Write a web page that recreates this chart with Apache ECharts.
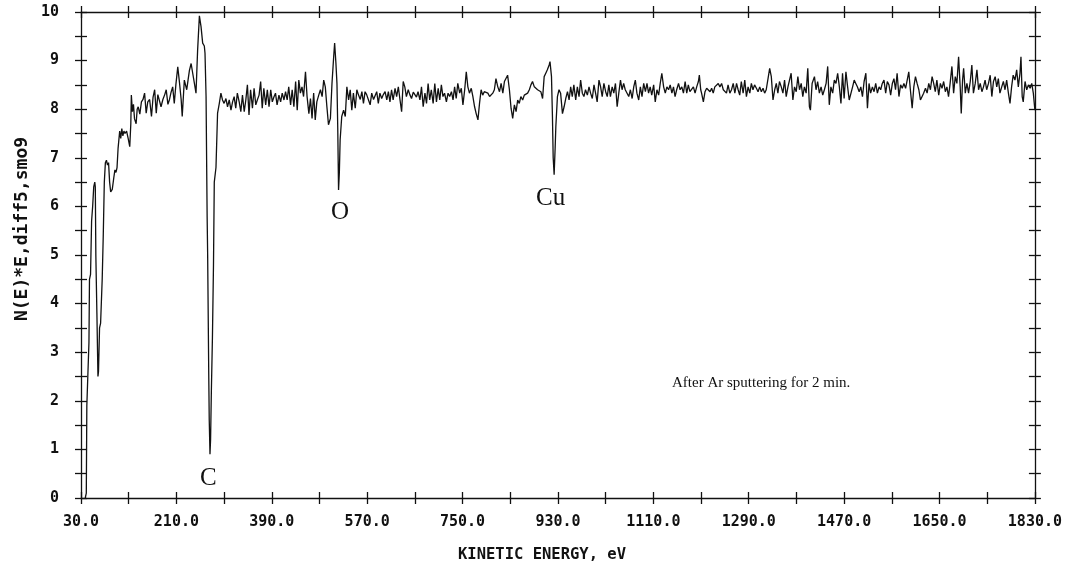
<!DOCTYPE html>
<html>
<head>
<meta charset="utf-8">
<script src="https://cdn.jsdelivr.net/npm/echarts@6/dist/echarts.min.js"></script>
<style>
html,body{margin:0;padding:0;background:#fff;}
#chart{width:1065px;height:566px;}
</style>
</head>
<body>
<div id="chart"></div>
<script>
// ---- data: [kinetic energy (eV), N(E)*E diff5 smo9] ----
const lowEnergy = [
[38,0.0],[40,0.1],[41,1.9],[44,1.9],[45,3.2],[46,4.5],[48,4.6],[50,5.7],[52,6.0],[54,6.4],[56,6.5],[57,6.4],
[58,5.0],[60,3.8],[62,2.5],[63,2.6],[65,3.5],[67,3.6],[70,4.5],[72,5.4],[74,6.5],[76,6.9],[78,6.95],[80,6.85],
[82,6.9],[84,6.5],[86,6.3],[89,6.35],[92,6.6],[94,6.75],[96,6.7],[98,6.8],[100,7.2],[103,7.55],[105,7.4],
[107,7.6],[109,7.45],[111,7.55],[113,7.5],[116,7.55],[119,7.4],[122,7.23],[124,7.7],[125,8.29],[127,7.95],
[129,8.1],[131,7.8],[134,7.7],[136,8.0]
];
const carbonRegion = [
[138,8.05],[141,7.9],[144,8.15],[147,8.2],[150,8.33],[153,7.92],[156,8.15],[159.5,8.2],[163,7.85],[166,8.25],
[169,8.4],[172,7.92],[175,8.3],[178,8.33],[181,8.05],[184.5,8.2],[188,8.3],[190.8,8.4],[194,8.1],[197,8.2],
[200,8.35],[203,8.46],[206,8.12],[209,8.5],[212.6,8.87],[216,8.53],[219,8.2],[221,7.85],[225,8.6],[229.5,8.4],
[232,8.6],[234.6,8.8],[237.8,8.94],[240.8,8.74],[244,8.53],[247,8.33],[250,9.2],[253.4,9.92],[256.5,9.7],
[259.6,9.36],[262.7,9.3],[264,9.15],[266,8.26],[267,7.0],[268,5.8],[269,5.0],[270,3.8],[271,2.6],[272,1.6],
[273.4,0.9],[274.5,1.2],[276,2.2],[278,3.3],[280,4.8],[281.5,6.5],[284.7,6.8],[287.7,7.92]
];
const oxygenRegion = [
[291,8.12],[294,8.33],[297,8.19],[300,8.12],[303.5,8.22],[306.5,8.05],[309.7,8.19],[313,7.98],[316,8.15],
[319,8.26],[322,8.02],[325,8.33],[328.5,8.15],[331.6,7.95],[334.7,8.29],[338,7.95],[341,8.19],[344,8.5],
[347,7.88],[350,8.40],[353.5,8.02],[356.6,8.43],[359.8,8.09],[363,8.2],[366,8.29],[369,8.57],[372,8.02],
[375,8.43],[378.5,8.09],[381.6,8.40],[384.8,8.05],[388,8.40],[391,8.15],[394,8.25],[397,8.33],[400,8.09],
[403.5,8.29],[406.7,8.15],[409.7,8.33],[413,8.19],[416,8.36],[419,8.19],[422,8.46],[425.5,8.09],[428.5,8.40],
[431.7,8.05],[435,8.57],[438,7.98],[441,8.60],[444,8.33],[447,8.46],[450,8.26],[453.6,8.77],[456.6,8.26],
[460,7.91],[463,8.22],[466,7.81],[469,8.33],[472,7.78],[475,8.15],[478.6,8.29],[481.8,8.40],[485,8.26],
[488,8.60],[491,8.46],[494,8.05],[497,7.68],[500.6,7.81],[503.6,8.53],[506.8,9.08],[508.6,9.36],[511,8.95],
[513,8.53],[514.5,7.6],[516,6.34],[517.5,6.7],[519,7.37],[522,7.85],[525.5,7.98],[528.7,7.85],[531.7,8.46],
[535,8.19],[538,8.40],[541,7.98],[544,8.33],[547.5,8.02],[550.5,8.40],[553.7,8.29],[557,8.2],[560,8.36],
[563,8.12],[566,8.36],[569,8.3],[572,8.26],[575.6,8.09],[578.6,8.33],[582,8.2],[585,8.22],[588,8.36],
[591,8.12],[594,8.33],[597.4,8.22],[600.5,8.3],[603.8,8.36],[607,8.19],[610,8.36],[613,8.15],[616,8.40],
[619,8.19],[622.6,8.43],[625.6,8.26],[628.8,8.46],[632,8.19],[635,7.95],[638,8.57],[641,8.46],[644,8.26],
[647.5,8.40],[650.5,8.3],[653.7,8.22],[657,8.35],[660,8.33],[663,8.25],[666,8.36]
];
const copperRegion = [
[669.5,8.19],[672.5,8.46],[675.7,8.05],[679,8.33],[682,8.12],[685,8.53],[688,8.19],[691,8.40],[694.5,8.12],
[697.6,8.53],[700.7,8.15],[704,8.43],[707,8.19],[710,8.50],[713,8.26],[716,8.33],[719.5,8.15],[722.6,8.33],
[725.7,8.26],[729,8.36],[732,8.19],[735,8.46],[738,8.22],[741,8.53],[744.6,8.33],[747.6,8.43],[750.7,8.09],
[754,8.40],[757,8.77],[760,8.46],[763,8.33],[766.4,8.43],[769.5,8.26],[772.7,8.05],[775.7,7.91],[779,7.78],
[782,8.12],[785,8.40],[788,8.29],[791,8.36],[794.5,8.36],[797.7,8.33],[801,8.26],[804,8.3],[807,8.33],
[810,8.4],[813,8.63],[816.5,8.46],[819.7,8.36],[822.7,8.53],[826,8.33],[829,8.57],[832,8.60],[835,8.70],
[838.4,8.40],[841.5,8.02],[844.6,7.81],[847.8,8.09],[851,7.95],[854,8.19],[857,8.12],[860,8.26],[863.4,8.19],
[866.5,8.29],[869.6,8.26],[872.8,8.33],[876,8.4],[879,8.50],[882,8.57],[885.4,8.46],[888.5,8.50],[891.5,8.40],
[894.7,8.43],[897.7,8.36],[901,8.22],[904,8.67],[907,8.74],[910,8.81],[913.4,8.91],[915,8.98],[917.8,8.67],
[919.6,7.85],[921,7.0],[922.8,6.65],[924.7,7.2],[926,7.64],[929,8.26],[932,8.40],[935,8.33],[938.5,7.91],
[941.6,8.05],[944.7,8.22],[948,8.36],[951,8.19],[954,8.46],[957,8.26],[960,8.50],[963.5,8.19],[966.6,8.46],
[969.8,8.26],[972.8,8.60],[976,8.33],[979,8.26],[982,8.40],[985.5,8.29],[988.6,8.46],[991.6,8.33],[994.8,8.22],
[998,8.50],[1001,8.33],[1004,8.15],[1007.4,8.60],[1010.5,8.46],[1013.5,8.26],[1016.7,8.53],[1020,8.36],
[1023,8.26],[1026,8.50],[1029,8.26],[1032.3,8.46],[1035.4,8.33],[1038.5,8.53],[1041.7,8.05],[1044.8,8.33],
[1048,8.60],[1051,8.40],[1054,8.53],[1057,8.4],[1060.5,8.36]
];
const highEnergy = [
[1063.6,8.26],[1066.7,8.40],[1070,8.22],[1073,8.46],[1076,8.60],[1079,8.33],[1082.4,8.19],[1085.5,8.46],
[1088.6,8.26],[1091.8,8.53],[1095,8.36],[1098,8.53],[1101,8.33],[1104,8.46],[1107,8.29],[1110.6,8.50],
[1113.6,8.15],[1116.8,8.40],[1120,8.29],[1123,8.53],[1126,8.74],[1129.4,8.46],[1132.5,8.33],[1135.6,8.46],
[1138.8,8.40],[1141.8,8.50],[1145,8.33],[1148,8.46],[1151,8.26],[1154,8.40],[1157.5,8.53],[1160.5,8.40],
[1163.7,8.46],[1166.8,8.33],[1170,8.57],[1173,8.33],[1176,8.50],[1179,8.36],[1182.5,8.40],[1185.6,8.46],
[1188.7,8.33],[1191.8,8.46],[1195,8.57],[1196.8,8.70],[1199.4,8.40],[1201,8.33],[1204.4,8.15],[1207.5,8.36],
[1210.6,8.43],[1213.8,8.40],[1217,8.36],[1220,8.43],[1223,8.33],[1226,8.46],[1229.4,8.50],[1232.5,8.53],
[1235.6,8.46],[1238.8,8.53],[1242,8.40],[1245,8.43],[1248,8.33],[1251,8.50],[1254.3,8.33],[1257.5,8.40],
[1260.7,8.53],[1263.8,8.33],[1267,8.53],[1270,8.40],[1273,8.29],[1276,8.57],[1279.4,8.33],[1282.5,8.60],
[1285.6,8.26],[1288.8,8.46],[1292,8.33],[1295,8.53],[1298,8.40],[1301,8.50],[1304.5,8.43],[1307.6,8.36],
[1310.7,8.46],[1313.8,8.36],[1317,8.43],[1320,8.33],[1323,8.40],[1326.4,8.63],[1329.5,8.84],[1332.6,8.67],
[1335.8,8.19],[1339,8.40],[1342,8.53],[1345,8.33],[1348,8.57],[1351.4,8.46],[1354.5,8.33],[1357.6,8.60],
[1360.7,8.26],[1364,8.46],[1367,8.43],[1370,8.74],[1373.3,8.19],[1376.4,8.46],[1379.6,8.36],[1382.7,8.67],
[1385.8,8.40],[1389,8.53],[1392,8.26],[1395,8.46],[1398.3,8.33],[1401.4,8.84],[1404.5,8.05],[1406.4,7.98],
[1409.6,8.53],[1414,8.67],[1417,8.40],[1420,8.57],[1423.3,8.33],[1426.5,8.46],[1429.6,8.29],[1432.7,8.40],
[1436,8.53],[1439,8.88],[1442,8.09],[1445,8.46],[1448.4,8.33],[1451.5,8.60],[1454.6,8.53],[1457.8,8.74],
[1461,8.46],[1464,8.12],[1467,8.74],[1470,8.22],[1473.4,8.77],[1476.6,8.46],[1479.6,8.19],[1482.8,8.22],
[1486,8.46],[1489,8.60],[1492,8.53],[1495,8.46],[1498.4,8.36],[1501.5,8.46],[1504.6,8.26],[1507.7,8.57],
[1511,8.74],[1514,8.02],[1517,8.53],[1520,8.33],[1523.4,8.46],[1526.5,8.36],[1529.6,8.53],[1532.8,8.33],
[1536,8.46],[1539,8.40],[1542,8.53],[1545.2,8.60],[1548.4,8.33],[1551.5,8.57],[1554.6,8.50],[1557.8,8.29],
[1561,8.53],[1564,8.63],[1567,8.40],[1570,8.74],[1573.4,8.26],[1576.6,8.50],[1579.7,8.43],[1582.8,8.53],
[1586,8.43],[1589,8.46],[1592,8.77],[1595,8.40],[1598.4,8.02],[1601.5,8.46],[1604.6,8.67],[1607.7,8.53],
[1611,8.40],[1614,8.19],[1617,8.15],[1620,8.33],[1623.5,8.43],[1626.6,8.33],[1629.7,8.53],[1632.8,8.40],
[1636,8.67],[1639,8.53],[1642,8.36],[1645,8.60],[1648.5,8.29],[1651.6,8.53],[1654.7,8.43],[1657.8,8.57],
[1661,8.36],[1664,8.46],[1667,8.26],[1670,8.53],[1673.4,8.88],[1676.6,8.33],[1679.7,8.67],[1682.8,8.53],
[1686,9.08],[1689,8.46],[1691,7.91],[1693.5,8.60],[1695.5,8.84],[1698.6,8.33],[1701.7,8.53],[1704.8,8.33],
[1708,8.57],[1711,8.91],[1714,8.33],[1717.4,8.53],[1720.6,8.81],[1723.7,8.40],[1726.8,8.53],[1730,8.36],
[1733,8.46],[1736,8.60],[1739,8.40],[1742.4,8.53],[1745.6,8.70],[1748.7,8.26],[1751.8,8.57],[1755,8.67],
[1758,8.46],[1761,8.63],[1764,8.33],[1767.4,8.46],[1770.5,8.57],[1773.6,8.40],[1776.7,8.60],[1780,8.33],
[1783,8.12],[1786,8.46],[1789,8.70],[1792.4,8.60],[1795.6,8.81],[1798.7,8.46],[1801.8,8.74],[1803.7,9.08],
[1806,8.26],[1808,8.15],[1811.4,8.57],[1814.6,8.40],[1817.7,8.50],[1821,8.43],[1824,8.53],[1827,8.33],
[1830,7.98]
];

// ---- tick positions and labels ----
const xTicks = [30,120,210,300,390,480,570,660,750,840,930,1020,1110,1200,1290,1380,1470,1560,1650,1740,1830];
const xLabels = [30,210,390,570,750,930,1110,1290,1470,1650,1830];
const yTicks = [0,0.5,1,1.5,2,2.5,3,3.5,4,4.5,5,5.5,6,6.5,7,7.5,8,8.5,9,9.5,10];
const yLabels = [0,1,2,3,4,5,6,7,8,9,10];

const xTitle = 'KINETIC ENERGY, eV';
const yTitle = 'N(E)*E,diff5,smo9';
const peakLabels = ['C', 'O', 'Cu'];
const note = 'After Ar sputtering for 2 min.';

const spectrum = lowEnergy.concat(carbonRegion, oxygenRegion, copperRegion, highEnergy);

const ink = '#111';
const monoFont = '"DejaVu Sans Mono", "Liberation Mono", monospace';
const serifFont = '"Liberation Serif", "DejaVu Serif", serif';

function xAx(pos, inside, main) {
  return {
    type: 'value', position: pos, min: 30, max: 1830,
    axisLine: { show: main, onZero: false, lineStyle: { color: ink, width: 1.3 } },
    axisTick: { show: true, inside: inside, length: 6, customValues: xTicks, lineStyle: { color: ink, width: 1.3 } },
    axisLabel: main && pos === 'bottom' ? {
      show: true, customValues: xLabels, margin: 17, color: ink,
      fontFamily: monoFont, fontWeight: 'bold', fontSize: 15,
      formatter: v => Number(v).toFixed(1)
    } : { show: false },
    splitLine: { show: false }
  };
}
function yAx(pos, inside, main) {
  return {
    type: 'value', position: pos, min: 0, max: 10,
    axisLine: { show: main, onZero: false, lineStyle: { color: ink, width: 1.3 } },
    axisTick: { show: true, inside: inside, length: 6, customValues: yTicks, lineStyle: { color: ink, width: 1.3 } },
    axisLabel: main && pos === 'left' ? {
      show: true, customValues: yLabels, margin: 22, color: ink,
      fontFamily: monoFont, fontWeight: 'bold', fontSize: 15
    } : { show: false },
    splitLine: { show: false }
  };
}

const chart = echarts.init(document.getElementById('chart'), null, { renderer: 'canvas' });
chart.setOption({
  backgroundColor: '#fff',
  animation: false,
  grid: { left: 81, right: 25, top: 12, bottom: 68, containLabel: false },
  xAxis: [xAx('bottom', false, true), xAx('bottom', true, false), xAx('top', false, true), xAx('top', true, false)],
  yAxis: [yAx('left', false, true), yAx('left', true, false), yAx('right', false, true), yAx('right', true, false)],
  series: [{
    type: 'line', xAxisIndex: 0, yAxisIndex: 0,
    data: spectrum, showSymbol: false, symbol: 'none',
    lineStyle: { color: ink, width: 1.3 }
  }],
  graphic: [
    { type: 'text', x: 22, y: 229, rotation: Math.PI / 2,
      style: { text: yTitle, font: 'bold 18px ' + monoFont, fill: ink, align: 'center', verticalAlign: 'middle' } },
    { type: 'text', x: 542, y: 555,
      style: { text: xTitle, font: 'bold 15.5px ' + monoFont, fill: ink, align: 'center', verticalAlign: 'middle' } },
    { type: 'text', left: 200, top: 466, style: { text: peakLabels[0], font: '25px ' + serifFont, fill: ink } },
    { type: 'text', left: 331, top: 200, style: { text: peakLabels[1], font: '25px ' + serifFont, fill: ink } },
    { type: 'text', left: 536, top: 186, style: { text: peakLabels[2], font: '25px ' + serifFont, fill: ink } },
    { type: 'text', left: 672, top: 376, style: { text: note, font: '15px ' + serifFont, fill: ink } }
  ]
});
</script>
</body>
</html>
